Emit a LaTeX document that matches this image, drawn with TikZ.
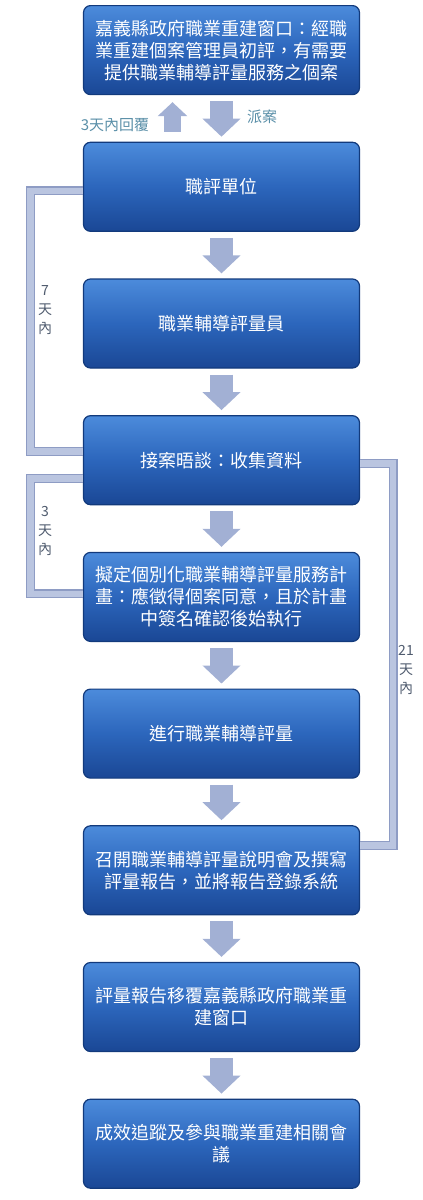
\documentclass[tikz,border=0pt]{standalone}
\usepackage{fontspec}
\setmainfont{Noto Sans CJK TC}
\usetikzlibrary{arrows.meta,positioning}
\definecolor{boxtop}{HTML}{4C8BDB}
\definecolor{boxmid}{HTML}{2C66BC}
\definecolor{boxbot}{HTML}{1A4795}
\definecolor{boxline}{HTML}{123A7C}
\definecolor{arrowfill}{HTML}{A2B0D4}
\definecolor{barline}{HTML}{8E9CC4}
\definecolor{barfill}{HTML}{BAC5E0}
\definecolor{notecol}{HTML}{5A8FA8}
\definecolor{sidecol}{HTML}{4F5B6E}

\begin{document}
\begin{tikzpicture}[
    x=1pt, y=1pt,
    node distance=46.5pt,
    box/.style={rectangle, rounded corners=7pt, draw=boxline, line width=1.2pt,
                top color=boxtop, bottom color=boxbot, middle color=boxmid,
                text=white, align=center, text width=270pt, minimum width=276pt,
                minimum height=89pt, inner sep=2pt, font=\fontsize{18}{22}\selectfont},
    flow/.style={draw=arrowfill, line width=23pt, -{Triangle[width=37pt,length=18pt]},
                 shorten >=5pt, shorten <=6pt},
    upflow/.style={draw=arrowfill, line width=17pt, -{Triangle[width=29pt,length=14pt]},
                   shorten >=7pt, shorten <=10pt},
    bar/.style={draw=barline, line width=1.2pt, double=barfill, double distance=6.5pt},
    note/.style={text=notecol, font=\fontsize{15}{15}\selectfont},
    side/.style={text=sidecol, align=center, font=\fontsize{14}{19}\selectfont}
]
\useasboundingbox (0,0) rectangle (423,-1200);
\node[box] (b1) at (221.5,-50.1) {嘉義縣政府職業重建窗口：經職\\業重建個案管理員初評，有需要\\提供職業輔導評量服務之個案};
\node[box, below=of b1] (b2) {職評單位};
\node[box, below=of b2] (b3) {職業輔導評量員};
\node[box, below=of b3] (b4) {接案晤談：收集資料};
\node[box, below=of b4] (b5) {擬定個別化職業輔導評量服務計\\畫：應徵得個案同意，且於計畫\\中簽名確認後始執行};
\node[box, below=of b5] (b6) {進行職業輔導評量};
\node[box, below=of b6] (b7) {召開職業輔導評量說明會及撰寫\\評量報告，並將報告登錄系統};
\node[box, below=of b7] (b8) {評量報告移覆嘉義縣政府職業重\\建窗口};
\node[box, below=of b8] (b9) {成效追蹤及參與職業重建相關會\\議};
\draw[flow] (b1)--(b2); \draw[flow] (b2)--(b3); \draw[flow] (b3)--(b4); \draw[flow] (b4)--(b5);
\draw[flow] (b5)--(b6); \draw[flow] (b6)--(b7); \draw[flow] (b7)--(b8); \draw[flow] (b8)--(b9);
\draw[upflow] ([xshift=-49pt]b2.north) -- ([xshift=-49pt]b1.south);
\node[note] (back) at (115,-125) {3天內回覆};
\node[note] (assign) at (262,-117) {派案};
\draw[bar] ([yshift=-4pt]b2.west) -- ++(-52.5,0) |- ([yshift=8.5pt]b4.west);
\draw[bar] ([yshift=-18.5pt]b4.west) -- ++(-52.5,0) |- ([yshift=3pt]b5.west);
\draw[bar] ([yshift=-3.5pt]b4.east) -- ++(33,0) |- ([yshift=25pt]b7.east);
\node[side] (d7) at (45,-310) {7\\天\\內};
\node[side] (d3) at (45,-531) {3\\天\\內};
\node[side] (d21) at (406,-670) {21\\天\\內};
\end{tikzpicture}
\end{document}
